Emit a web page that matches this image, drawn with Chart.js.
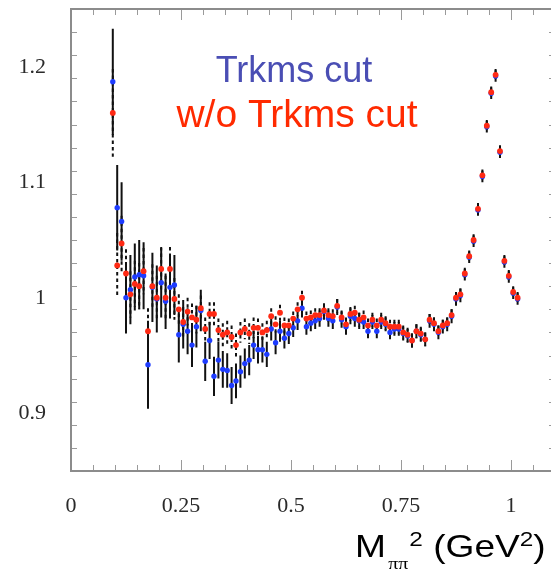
<!DOCTYPE html>
<html>
<head>
<meta charset="utf-8">
<script src="https://cdn.jsdelivr.net/npm/chart.js@4.4.1/dist/chart.umd.min.js"></script>
<style>
  html, body { margin: 0; padding: 0; background: #fff; overflow: hidden; }
  #wrap { position: absolute; left: 0; top: 0; width: 556px; height: 571px; }
</style>
</head>
<body>
<div id="wrap"><canvas id="ratioChart" width="556" height="571"></canvas></div>
<script>
// bin centres, M_pipi^2 in GeV^2
const massSq = [0.095,0.105,0.115,0.125,0.135,0.145,0.155,0.165,0.175,0.185,
  0.195,0.205,0.215,0.225,0.235,0.245,0.255,0.265,0.275,0.285,
  0.295,0.305,0.315,0.325,0.335,0.345,0.355,0.365,0.375,0.385,
  0.395,0.405,0.415,0.425,0.435,0.445,0.455,0.465,0.475,0.485,
  0.495,0.505,0.515,0.525,0.535,0.545,0.555,0.565,0.575,0.585,
  0.595,0.605,0.615,0.625,0.635,0.645,0.655,0.665,0.675,0.685,
  0.695,0.705,0.715,0.725,0.735,0.745,0.755,0.765,0.775,0.785,
  0.795,0.805,0.815,0.825,0.835,0.845,0.855,0.865,0.875,0.885,
  0.895,0.905,0.915,0.925,0.935,0.945,0.955,0.965,0.975,0.985,
  0.995,1.005,1.015];

// "Trkms cut"
const cutRatio = [1.187,1.078,1.066,1.000,1.007,1.018,1.020,1.019,0.942,1.009,
  0.999,1.013,0.997,1.009,1.011,0.968,0.977,0.971,0.959,0.975,
  0.989,0.945,0.963,0.932,0.946,0.938,0.937,0.924,0.928,0.936,
  0.943,0.946,0.959,0.955,0.955,0.951,0.973,0.961,0.971,0.965,
  0.969,0.974,0.980,0.991,0.975,0.978,0.980,0.982,0.988,0.982,
  0.980,0.992,0.981,0.975,0.984,0.982,0.980,0.979,0.971,0.979,
  0.971,0.979,0.977,0.970,0.973,0.973,0.969,0.967,0.963,0.971,
  0.968,0.964,0.980,0.977,0.970,0.975,0.977,0.984,0.999,1.002,
  1.020,1.035,1.049,1.076,1.105,1.148,1.177,1.192,1.126,1.031,
  1.018,1.004,0.999];
const cutErr = [0.046,0.037,0.034,0.031,0.030,0.029,0.030,0.029,0.038,0.030,
  0.029,0.030,0.024,0.027,0.026,0.024,0.021,0.020,0.019,0.018,
  0.018,0.017,0.016,0.017,0.016,0.016,0.015,0.016,0.015,0.014,
  0.013,0.013,0.012,0.012,0.011,0.011,0.010,0.010,0.009,0.009,
  0.009,0.008,0.008,0.008,0.007,0.007,0.007,0.007,0.007,0.007,
  0.007,0.007,0.007,0.007,0.007,0.007,0.007,0.006,0.006,0.006,
  0.006,0.006,0.006,0.006,0.006,0.006,0.006,0.006,0.006,0.006,
  0.006,0.006,0.006,0.006,0.006,0.006,0.006,0.006,0.006,0.006,
  0.005,0.005,0.005,0.005,0.005,0.005,0.005,0.005,0.005,0.005,
  0.005,0.005,0.005];

// "w/o Trkms cut"
const noCutRatio = [1.160,1.028,1.047,1.021,1.003,1.012,1.010,1.023,0.971,1.010,
  1.000,1.025,1.000,1.025,0.999,0.990,0.979,0.988,0.983,0.981,
  0.991,0.973,0.986,0.986,0.972,0.968,0.970,0.966,0.959,0.970,
  0.973,0.969,0.974,0.974,0.970,0.972,0.984,0.977,0.987,0.976,
  0.976,0.982,0.990,1.000,0.982,0.983,0.985,0.985,0.989,0.985,
  0.984,0.993,0.983,0.977,0.986,0.987,0.981,0.983,0.976,0.981,
  0.976,0.981,0.978,0.975,0.975,0.975,0.970,0.968,0.963,0.971,
  0.969,0.964,0.981,0.978,0.971,0.976,0.978,0.985,1.000,1.003,
  1.021,1.036,1.050,1.077,1.106,1.149,1.178,1.193,1.127,1.032,
  1.019,1.005,1.000];
const noCutErr = [0.038,0.028,0.024,0.021,0.020,0.020,0.020,0.020,0.020,0.019,
  0.019,0.019,0.019,0.019,0.018,0.013,0.013,0.012,0.012,0.012,
  0.011,0.010,0.010,0.010,0.010,0.010,0.010,0.010,0.010,0.009,
  0.009,0.009,0.009,0.008,0.008,0.008,0.007,0.007,0.007,0.007,
  0.006,0.006,0.006,0.006,0.006,0.006,0.006,0.006,0.006,0.006,
  0.006,0.006,0.006,0.006,0.006,0.006,0.006,0.006,0.006,0.006,
  0.006,0.006,0.006,0.006,0.006,0.006,0.006,0.006,0.006,0.006,
  0.006,0.006,0.005,0.005,0.005,0.005,0.005,0.005,0.005,0.005,
  0.005,0.005,0.005,0.005,0.005,0.005,0.005,0.005,0.005,0.005,
  0.005,0.005,0.005];

const xTickLabels = [0, 0.25, 0.5, 0.75, 1];
const yTickLabels = [0.9, 1, 1.1, 1.2];

const seriesNames = ['Trkms cut', 'w/o Trkms cut'];

function toPoints(ys) {
  return massSq.map((m, i) => ({ x: m, y: ys[i] }));
}

// error bars go under the markers: solid for the cut sample, dashed for the other
const errorBars = {
  id: 'errorBars',
  beforeDatasetsDraw(chart) {
    const { ctx, scales: { x, y } } = chart;
    const draw = (ys, errs, dash) => {
      ctx.setLineDash(dash);
      ctx.beginPath();
      ys.forEach((v, i) => {
        const px = x.getPixelForValue(massSq[i]);
        ctx.moveTo(px, y.getPixelForValue(v + errs[i]));
        ctx.lineTo(px, y.getPixelForValue(v - errs[i]));
      });
      ctx.stroke();
    };
    ctx.save();
    ctx.strokeStyle = '#111';
    ctx.lineWidth = 2;
    draw(noCutRatio, noCutErr, [3.5, 3]);
    draw(cutRatio, cutErr, []);
    ctx.restore();
  }
};

// box with inward ticks on all four sides
const frame = {
  id: 'frame',
  afterDraw(chart) {
    const { ctx, chartArea: a, scales: { x, y } } = chart;
    ctx.save();
    ctx.strokeStyle = '#9a9a9a';
    ctx.lineWidth = 1;
    ctx.beginPath();
    for (let i = 0; i <= 22; i++) {
      const v = i * 0.05;
      const px = Math.round(x.getPixelForValue(v)) + 0.5;
      const len = (i % 5 === 0) ? 11 : 6;
      ctx.moveTo(px, a.bottom); ctx.lineTo(px, a.bottom - len);
      ctx.moveTo(px, a.top); ctx.lineTo(px, a.top + len);
    }
    for (let i = 0; i <= 20; i++) {
      const v = 0.85 + i * 0.02;
      const py = Math.round(y.getPixelForValue(v)) + 0.5;
      const len = (Math.abs(v * 10 - Math.round(v * 10)) < 1e-6) ? 11 : 6;
      ctx.moveTo(a.left, py); ctx.lineTo(a.left + len, py);
      ctx.moveTo(a.right, py); ctx.lineTo(a.right - len, py);
    }
    ctx.stroke();
    ctx.strokeStyle = '#8c8c8c';
    ctx.lineWidth = 2;
    ctx.strokeRect(a.left, a.top, a.right - a.left, a.bottom - a.top);
    ctx.restore();
  }
};

// legend words and the axis title with sub/superscripts
const labels = {
  id: 'labels',
  afterDraw(chart) {
    const { ctx } = chart;
    ctx.save();
    ctx.textBaseline = 'alphabetic';
    ctx.textAlign = 'center';
    ctx.fillStyle = '#4a4eb4';
    ctx.font = '36px "Liberation Sans", Arial, sans-serif';
    ctx.fillText(seriesNames[0], 294, 82);
    ctx.fillStyle = '#ff2a00';
    ctx.font = '39px "Liberation Sans", Arial, sans-serif';
    ctx.fillText(seriesNames[1], 297, 127);

    // title, stretched sideways like the original slide
    ctx.textAlign = 'left';
    ctx.fillStyle = '#000';
    const big = '32px "Liberation Sans", Arial, sans-serif';
    const sup = '21px "Liberation Sans", Arial, sans-serif';
    const sub = '17px "Liberation Serif", "Times New Roman", serif';
    ctx.translate(355, 557);
    ctx.scale(1.16, 1);
    let cx = 0;
    const put = (t, font, dy) => {
      ctx.font = font;
      ctx.fillText(t, cx, dy);
      cx += ctx.measureText(t).width;
    };
    put('M', big, 0);
    cx += 2;
    put('\u03c0\u03c0', sub, 12);
    cx += 1;
    put('2', sup, -11);
    put(' (GeV', big, 0);
    put('2', sup, -11);
    put(')', big, 0);
    ctx.restore();
  }
};

// drop the half-label padding that scales ask for, so the box sits where the original does
function fixPadding(s) {
  s.paddingTop = 0;
  s.paddingBottom = 0;
  s.paddingLeft = 0;
  s.paddingRight = 0;
}

const ctx = document.getElementById('ratioChart').getContext('2d');
const tickFont = { family: '"Liberation Serif", "Times New Roman", serif', size: 22 };

new Chart(ctx, {
  type: 'scatter',
  data: {
    datasets: [
      {
        label: seriesNames[1],
        data: toPoints(noCutRatio),
        backgroundColor: '#ff2a14',
        borderWidth: 0,
        pointRadius: 2.9,
        order: 0
      },
      {
        label: seriesNames[0],
        data: toPoints(cutRatio),
        backgroundColor: '#1e3cff',
        borderWidth: 0,
        pointRadius: 2.7,
        order: 1
      }
    ]
  },
  options: {
    responsive: false,
    animation: false,
    devicePixelRatio: 1,
    layout: { autoPadding: false, padding: { left: 0, top: 9, right: 1, bottom: 0 } },
    plugins: {
      legend: { display: false },
      title: { display: false },
      tooltip: { enabled: false }
    },
    scales: {
      x: {
        type: 'linear',
        min: 0,
        max: 1.1,
        grid: { display: false, drawTicks: false },
        border: { display: false },
        afterBuildTicks: (s) => { s.ticks = xTickLabels.map(v => ({ value: v })); },
        afterFit: (s) => { s.height = 100; fixPadding(s); },
        ticks: {
          padding: 22,
          color: '#2a2a2a',
          font: tickFont,
          maxRotation: 0,
          callback: (v) => String(+v.toFixed(2))
        }
      },
      y: {
        type: 'linear',
        min: 0.85,
        max: 1.25,
        grid: { display: false, drawTicks: false },
        border: { display: false },
        afterBuildTicks: (s) => { s.ticks = yTickLabels.map(v => ({ value: v })); },
        afterFit: (s) => { s.width = 71; fixPadding(s); },
        ticks: {
          padding: 25,
          color: '#2a2a2a',
          font: tickFont,
          callback: (v) => String(+v.toFixed(2))
        }
      }
    }
  },
  plugins: [errorBars, frame, labels]
});
</script>
</body>
</html>
